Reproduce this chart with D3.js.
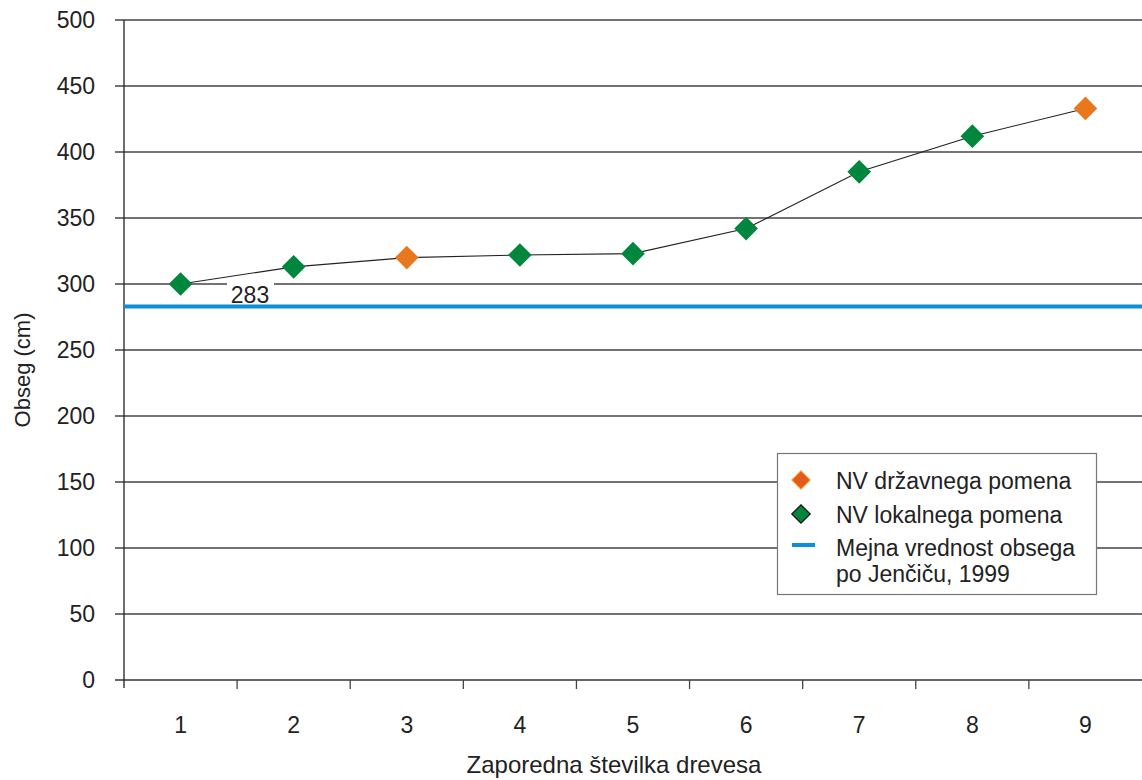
<!DOCTYPE html>
<html>
<head>
<meta charset="utf-8">
<script src="https://cdn.jsdelivr.net/npm/d3@7"></script>
<style>
  html, body { margin: 0; padding: 0; background: #fff; }
  svg { display: block; font-family: "Liberation Sans", Arial, sans-serif; }
</style>
</head>
<body>
<svg id="chart" width="1142" height="780"></svg>
<script>
// Tree sequence numbers and measured girth (cm)
const trees = [1, 2, 3, 4, 5, 6, 7, 8, 9];
const girth = [300, 313, 320, 322, 323, 342, 385, 412, 433];
// importance class of each tree: "d" = national, "l" = local
const importance = ["l", "l", "d", "l", "l", "l", "l", "l", "d"];
const threshold = 283;
const yTicks = [0, 50, 100, 150, 200, 250, 300, 350, 400, 450, 500];
const legendLabels = ["NV državnega pomena", "NV lokalnega pomena", "Mejna vrednost obsega", "po Jenčiču, 1999"];

const colors = { d: "#e8771e", l: "#00873d", limit: "#0a8fd8" };

const svg = d3.select("#chart");
const plotLeft = 124, plotRight = 1142, plotTop = 20, plotBottom = 680;

const x = d3.scaleBand().domain(trees).range([plotLeft, plotRight]).paddingInner(0).paddingOuter(0);
const y = d3.scaleLinear().domain([0, 500]).range([plotBottom, plotTop]);

// horizontal grid lines with outward tick stubs
svg.append("g").selectAll("line").data(yTicks).join("line")
  .attr("x1", plotLeft - 9).attr("x2", plotRight)
  .attr("y1", d => y(d)).attr("y2", d => y(d))
  .attr("stroke", d => d === 0 ? "#333" : "#444").attr("stroke-width", 1.3);

// y axis line
svg.append("line").attr("x1", plotLeft).attr("x2", plotLeft).attr("y1", plotTop).attr("y2", plotBottom + 8)
  .attr("stroke", "#222").attr("stroke-width", 1.3);

// y tick labels
svg.append("g").selectAll("text").data(yTicks).join("text")
  .attr("x", 95).attr("y", d => y(d) + 8)
  .attr("text-anchor", "end").attr("font-size", 23).attr("fill", "#222")
  .text(d => d);

// x tick marks at band boundaries
svg.append("g").selectAll("line").data(trees.slice(1)).join("line")
  .attr("x1", d => x(d)).attr("x2", d => x(d))
  .attr("y1", plotBottom).attr("y2", plotBottom + 9)
  .attr("stroke", "#444").attr("stroke-width", 1.3);

// x tick labels
svg.append("g").selectAll("text").data(trees).join("text")
  .attr("x", d => x(d) + x.bandwidth() / 2).attr("y", 733)
  .attr("text-anchor", "middle").attr("font-size", 23).attr("fill", "#222")
  .text(d => d);

// axis titles
svg.append("text").attr("x", 614).attr("y", 773).attr("text-anchor", "middle")
  .attr("font-size", 24).attr("fill", "#222").text("Zaporedna številka drevesa");
svg.append("text").attr("transform", `translate(30, ${y(250) + 20}) rotate(-90)`)
  .attr("text-anchor", "middle").attr("font-size", 22).attr("fill", "#222").text("Obseg (cm)");

// threshold line and its label
svg.append("line").attr("x1", plotLeft).attr("x2", plotRight)
  .attr("y1", y(threshold)).attr("y2", y(threshold))
  .attr("stroke", colors.limit).attr("stroke-width", 4);
svg.append("rect").attr("x", 227).attr("y", y(300) - 2).attr("width", 47).attr("height", 5).attr("fill", "#fff");
svg.append("text").attr("x", 250).attr("y", y(threshold) - 3).attr("text-anchor", "middle")
  .attr("font-size", 23).attr("fill", "#222").text(threshold);

// connecting line
const pts = trees.map((t, i) => [x(t) + x.bandwidth() / 2, y(girth[i])]);
svg.append("path").datum(pts).attr("d", d3.line())
  .attr("fill", "none").attr("stroke", "#222").attr("stroke-width", 1.1);

// diamond markers
const diamond = d3.symbol().type(d3.symbolSquare).size(280);
svg.append("g").selectAll("path").data(trees).join("path")
  .attr("d", diamond)
  .attr("transform", (t, i) => `translate(${pts[i][0]},${pts[i][1]}) rotate(45)`)
  .attr("fill", (t, i) => colors[importance[i]]);

// legend
const lg = svg.append("g");
lg.append("rect").attr("x", 777.5).attr("y", 453.5).attr("width", 319).attr("height", 141)
  .attr("fill", "#fff").attr("stroke", "#777").attr("stroke-width", 1.2);
const legendSym = d3.symbol().type(d3.symbolSquare).size(170);
lg.append("path").attr("d", legendSym).attr("transform", "translate(801,480) rotate(45)")
  .attr("fill", "#e35a1e").attr("stroke", "#f0a030").attr("stroke-width", 1);
lg.append("path").attr("d", legendSym).attr("transform", "translate(801,514) rotate(45)")
  .attr("fill", colors.l).attr("stroke", "#111").attr("stroke-width", 1.2);
lg.append("line").attr("x1", 792).attr("x2", 815).attr("y1", 545).attr("y2", 545)
  .attr("stroke", colors.limit).attr("stroke-width", 4);
const ly = [489, 523, 556, 582];
lg.selectAll("text.l").data(legendLabels).join("text")
  .attr("x", 836).attr("y", (d, i) => ly[i])
  .attr("font-size", 23).attr("fill", "#222").text(d => d);
</script>
</body>
</html>
